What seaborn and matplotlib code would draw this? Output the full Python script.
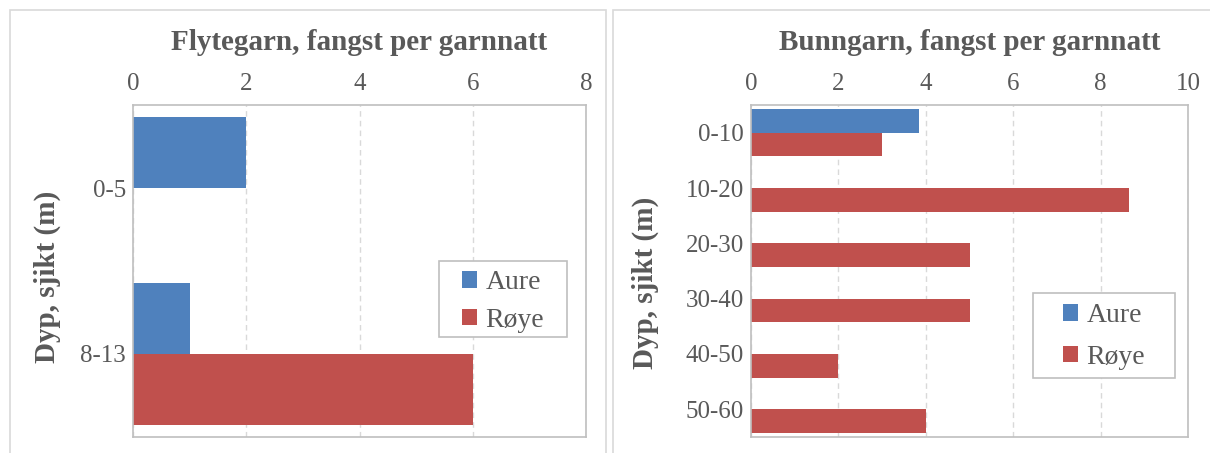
import pandas as pd
import matplotlib
matplotlib.use('Agg')
import matplotlib.pyplot as plt
import seaborn as sns
from matplotlib.patches import Rectangle

# data
species = ['Aure', 'Røye']

flyte_depth = ['0-5', '8-13']
flyte_aure = [2, 1]
flyte_roye = [0, 6]

bunn_depth = ['0-10', '10-20', '20-30', '30-40', '40-50', '50-60']
bunn_aure = [3.85, 0, 0, 0, 0, 0]
bunn_roye = [3.0, 8.65, 5.0, 5.0, 2.0, 4.0]

colors = ['#4F81BD', '#C0504D']
text_col = '#595959'


def make_df(depth, aure, roye):
    rows = []
    for d, a, r in zip(depth, aure, roye):
        rows.append({'Dyp': d, 'Art': 'Aure', 'Fangst': a})
        rows.append({'Dyp': d, 'Art': 'Røye', 'Fangst': r})
    df = pd.DataFrame(rows)
    df['Dyp'] = pd.Categorical(df['Dyp'], categories=depth, ordered=True)
    # Excel draws nothing for zero values
    return df[df['Fangst'] > 0]


sns.set_theme(style='white')
plt.rcParams['font.family'] = ['Liberation Serif', 'DejaVu Serif']

fig = plt.figure(figsize=(12.1, 4.53), dpi=100)

# chart-area borders like the Excel frames
W, H = 1210, 453
fig.patches.append(Rectangle((10 / W, -0.1), (606 - 10) / W, 1.1 - 10 / H,
                             transform=fig.transFigure, fill=False,
                             edgecolor='#D9D9D9', linewidth=1.2))
fig.patches.append(Rectangle((613 / W, -0.1), 0.5, 1.1 - 10 / H,
                             transform=fig.transFigure, fill=False,
                             edgecolor='#D9D9D9', linewidth=1.2))

panels = [
    dict(df=make_df(flyte_depth, flyte_aure, flyte_roye), depth=flyte_depth,
         title='Flytegarn, fangst per garnnatt', xmax=8,
         rect=[133 / W, 1 - 437 / H, (586 - 133) / W, (437 - 105) / H],
         ylab=(-0.19, 0.482), leg=(503, 301.5), box=(439, 261, 567, 337), lsp=0.45),
    dict(df=make_df(bunn_depth, bunn_aure, bunn_roye), depth=bunn_depth,
         title='Bunngarn, fangst per garnnatt', xmax=10,
         rect=[751 / W, 1 - 437 / H, (1188 - 751) / W, (437 - 105) / H],
         ylab=(-0.2426, 0.464), leg=(1104, 336.5), box=(1033, 293, 1175, 378), lsp=0.6),
]

for p in panels:
    ax = fig.add_axes(p['rect'])
    sns.barplot(data=p['df'], y='Dyp', x='Fangst', hue='Art', hue_order=species,
                order=p['depth'], orient='h', palette=colors, width=0.86,
                linewidth=0, saturation=1, ax=ax)
    ax.set_xlim(0, p['xmax'])
    ax.set_ylim(len(p['depth']) - 0.5, -0.5)
    ax.set_xticks(range(0, p['xmax'] + 1, 2))
    ax.xaxis.tick_top()
    ax.tick_params(axis='both', length=0, labelsize=18, labelcolor=text_col)
    ax.tick_params(axis='x', pad=7)
    ax.tick_params(axis='y', pad=5)
    ax.grid(True, axis='x', linestyle=(0, (4, 3)), color='#D9D9D9', linewidth=1)
    ax.set_axisbelow(True)
    for s in ax.spines.values():
        s.set_visible(True)
        s.set_color('#BFBFBF')
        s.set_linewidth(1.2)
    ax.set_xlabel('')
    ax.set_ylabel('')
    ax.text(p['ylab'][0], p['ylab'][1], 'Dyp, sjikt (m)', transform=ax.transAxes,
            rotation=90, ha='center', va='center', rotation_mode='anchor',
            fontsize=21, fontweight='bold', color=text_col)
    ax.text(0.5, (437 - 50) / 332, p['title'], transform=ax.transAxes,
            ha='center', va='baseline', fontsize=21, fontweight='bold',
            color=text_col)

    # legend box drawn separately so its padding matches Excel's
    x0, y0, x1, y1 = p['box']
    frame = Rectangle((x0 / W, 1 - y1 / H), (x1 - x0) / W, (y1 - y0) / H,
                      transform=fig.transFigure, facecolor='white',
                      edgecolor='#BFBFBF', linewidth=1.2, zorder=4, clip_on=False)
    ax.add_patch(frame)
    leg = ax.legend(loc='center', bbox_to_anchor=(p['leg'][0] / W, 1 - p['leg'][1] / H),
                    bbox_transform=fig.transFigure, frameon=False, fontsize=20,
                    handlelength=0.55, handleheight=0.55, handletextpad=0.3,
                    borderpad=0.2, labelspacing=p['lsp'], labelcolor=text_col)
    leg.set_zorder(5)

fig.savefig('out.png', dpi=100)
